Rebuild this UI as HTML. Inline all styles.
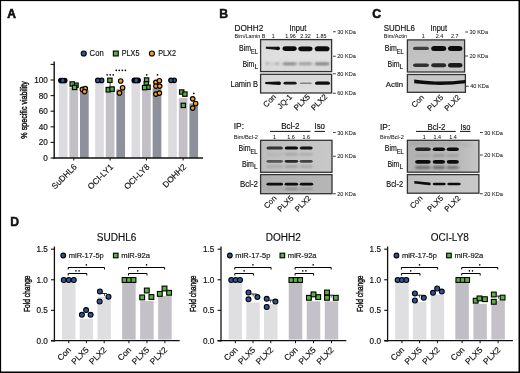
<!DOCTYPE html>
<html><head><meta charset="utf-8"><style>
html,body{margin:0;padding:0;background:#fff;}
body{position:relative;width:520px;height:373px;overflow:hidden;}
.fr{position:absolute;left:0;top:0;}
svg{display:block;font-family:"Liberation Sans", sans-serif;filter:blur(0.4px);}
text{stroke:#111;stroke-width:0.16px;}
</style></head><body>
<svg width="520" height="373" viewBox="0 0 520 373" font-family='"Liberation Sans", sans-serif' fill="#111">
<defs>
<filter id="b0" x="-20%" y="-100%" width="140%" height="300%"><feGaussianBlur stdDeviation="0.45"/></filter>
<filter id="b1" x="-20%" y="-100%" width="140%" height="300%"><feGaussianBlur stdDeviation="0.85"/></filter>
<filter id="b2" x="-20%" y="-100%" width="140%" height="300%"><feGaussianBlur stdDeviation="0.9"/></filter>
<filter id="b3" x="-20%" y="-100%" width="140%" height="300%"><feGaussianBlur stdDeviation="1.4"/></filter>
<linearGradient id="gB1" x1="0" y1="0" x2="0" y2="1"><stop offset="0" stop-color="#d6d6d6"/><stop offset="0.5" stop-color="#e0e0e0"/><stop offset="1" stop-color="#d8d8d8"/></linearGradient>
<linearGradient id="gB2" x1="0" y1="0" x2="0" y2="1"><stop offset="0" stop-color="#d8d8d8"/><stop offset="1" stop-color="#dedede"/></linearGradient>
<linearGradient id="gB3" x1="0" y1="0" x2="1" y2="0"><stop offset="0" stop-color="#bebebe"/><stop offset="1" stop-color="#c8c8c8"/></linearGradient>
<linearGradient id="gB4" x1="0" y1="0" x2="1" y2="0"><stop offset="0" stop-color="#b0b0b0"/><stop offset="1" stop-color="#b6b6b6"/></linearGradient>
<linearGradient id="gC1" x1="0" y1="0" x2="0" y2="1"><stop offset="0" stop-color="#bebebe"/><stop offset="1" stop-color="#c6c6c6"/></linearGradient>
<linearGradient id="gC2" x1="0" y1="0" x2="0" y2="1"><stop offset="0" stop-color="#c6c6c6"/><stop offset="1" stop-color="#cccccc"/></linearGradient>
<linearGradient id="gC3" x1="0" y1="0" x2="1" y2="0"><stop offset="0" stop-color="#b2b2b2"/><stop offset="0.7" stop-color="#b8b8b8"/><stop offset="1" stop-color="#c6c6c6"/></linearGradient>
<linearGradient id="gC4" x1="0" y1="0" x2="1" y2="0"><stop offset="0" stop-color="#bebebe"/><stop offset="1" stop-color="#c8c8c8"/></linearGradient>
</defs>
<rect x="0" y="0" width="520" height="373" fill="#fff"/>
<text x="7.3" y="17.5" font-size="12.0" font-weight="bold" style="stroke-width:0.65px">A</text>
<circle cx="83.75" cy="53.5" r="2.55" fill="#2d5597" stroke="#000" stroke-width="1.1"/>
<text x="89.6" y="56.3" font-size="8.2" textLength="14.1" lengthAdjust="spacingAndGlyphs">Con</text>
<rect x="113.35" y="51.05" width="4.9" height="4.9" fill="#5cb043" stroke="#000" stroke-width="1.1"/>
<text x="121.8" y="56.3" font-size="8.2" textLength="17.6" lengthAdjust="spacingAndGlyphs">PLX5</text>
<circle cx="151.9" cy="53.5" r="2.55" fill="#f39c26" stroke="#000" stroke-width="1.1"/>
<text x="158.2" y="56.3" font-size="8.2" textLength="17.8" lengthAdjust="spacingAndGlyphs">PLX2</text>
<rect x="58.8" y="80.0" width="8.7" height="78.0" fill="#dcdce0"/>
<rect x="69.4" y="87.41" width="8.7" height="70.59" fill="#c2c0c6"/>
<rect x="80.0" y="90.14" width="8.7" height="67.86" fill="#8e909c"/>
<rect x="95.15" y="80.0" width="8.7" height="78.0" fill="#dcdce0"/>
<rect x="105.75" y="86.24" width="8.7" height="71.76" fill="#c2c0c6"/>
<rect x="116.35" y="89.36" width="8.7" height="68.64" fill="#8e909c"/>
<rect x="131.45000000000002" y="80.0" width="8.7" height="78.0" fill="#dcdce0"/>
<rect x="142.05" y="87.8" width="8.7" height="70.2" fill="#c2c0c6"/>
<rect x="152.65" y="88.19" width="8.7" height="69.81" fill="#8e909c"/>
<rect x="168.15" y="80.0" width="8.7" height="78.0" fill="#dcdce0"/>
<rect x="178.75" y="97.94" width="8.7" height="60.06" fill="#c2c0c6"/>
<rect x="189.35" y="103.4" width="8.7" height="54.599999999999994" fill="#8e909c"/>
<line x1="54.2" y1="61.5" x2="54.2" y2="158.7" stroke="#111" stroke-width="1.4"/>
<line x1="53.5" y1="158" x2="203" y2="158" stroke="#111" stroke-width="1.4"/>
<line x1="50.6" y1="158.0" x2="54.2" y2="158.0" stroke="#111" stroke-width="1.1"/>
<text x="47.8" y="160.9" font-size="8.2" text-anchor="end">0</text>
<line x1="50.6" y1="142.4" x2="54.2" y2="142.4" stroke="#111" stroke-width="1.1"/>
<text x="47.8" y="145.3" font-size="8.2" text-anchor="end">20</text>
<line x1="50.6" y1="126.8" x2="54.2" y2="126.8" stroke="#111" stroke-width="1.1"/>
<text x="47.8" y="129.7" font-size="8.2" text-anchor="end">40</text>
<line x1="50.6" y1="111.19999999999999" x2="54.2" y2="111.19999999999999" stroke="#111" stroke-width="1.1"/>
<text x="47.8" y="114.1" font-size="8.2" text-anchor="end">60</text>
<line x1="50.6" y1="95.6" x2="54.2" y2="95.6" stroke="#111" stroke-width="1.1"/>
<text x="47.8" y="98.5" font-size="8.2" text-anchor="end">80</text>
<line x1="50.6" y1="80.0" x2="54.2" y2="80.0" stroke="#111" stroke-width="1.1"/>
<text x="47.8" y="82.9" font-size="8.2" text-anchor="end">100</text>
<line x1="50.6" y1="64.39999999999999" x2="54.2" y2="64.39999999999999" stroke="#111" stroke-width="1.1"/>
<line x1="73.75" y1="158" x2="73.75" y2="160.5" stroke="#111" stroke-width="1.0"/>
<line x1="110.1" y1="158" x2="110.1" y2="160.5" stroke="#111" stroke-width="1.0"/>
<line x1="146.4" y1="158" x2="146.4" y2="160.5" stroke="#111" stroke-width="1.0"/>
<line x1="183.1" y1="158" x2="183.1" y2="160.5" stroke="#111" stroke-width="1.0"/>
<text x="26.7" y="109.9" font-size="8.8" text-anchor="middle" textLength="57.5" lengthAdjust="spacingAndGlyphs" transform="rotate(-90 26.7 109.9)" style="stroke-width:0.42px">% specific viability</text>
<text x="77.35" y="167.4" font-size="8.4" text-anchor="end" transform="rotate(-45 77.35 167.4)">SuDHL6</text>
<text x="113.69999999999999" y="167.4" font-size="8.4" text-anchor="end" transform="rotate(-45 113.69999999999999 167.4)">OCI-LY1</text>
<text x="150.0" y="167.4" font-size="8.4" text-anchor="end" transform="rotate(-45 150.0 167.4)">OCI-LY8</text>
<text x="186.7" y="167.4" font-size="8.4" text-anchor="end" transform="rotate(-45 186.7 167.4)">DOHH2</text>
<circle cx="60.9" cy="80.5" r="2.25" fill="#000" stroke="#000" stroke-width="1.15"/>
<circle cx="64.7" cy="80.5" r="2.25" fill="#000" stroke="#000" stroke-width="1.15"/>
<circle cx="62.8" cy="80.5" r="2.3" fill="#2d5597" stroke="#000" stroke-width="1.1"/>
<rect x="73.825" y="83.025" width="4.35" height="4.35" fill="#5cb043" stroke="#000" stroke-width="1.15"/>
<rect x="70.025" y="81.825" width="4.35" height="4.35" fill="#5cb043" stroke="#000" stroke-width="1.15"/>
<rect x="72.425" y="85.22500000000001" width="4.35" height="4.35" fill="#5cb043" stroke="#000" stroke-width="1.15"/>
<circle cx="82.4" cy="89.4" r="2.25" fill="#f39c26" stroke="#000" stroke-width="1.15"/>
<circle cx="85.3" cy="88.6" r="2.25" fill="#f39c26" stroke="#000" stroke-width="1.15"/>
<circle cx="84.6" cy="91.6" r="2.25" fill="#f39c26" stroke="#000" stroke-width="1.15"/>
<circle cx="101.6" cy="80.4" r="2.25" fill="#2d5597" stroke="#000" stroke-width="1.15"/>
<circle cx="97.8" cy="80.4" r="2.25" fill="#2d5597" stroke="#000" stroke-width="1.15"/>
<line x1="110.1" y1="80.1" x2="110.1" y2="89.5" stroke="#111" stroke-width="0.8"/>
<rect x="107.72500000000001" y="78.125" width="4.35" height="4.35" fill="#5cb043" stroke="#000" stroke-width="1.15"/>
<rect x="106.125" y="87.625" width="4.35" height="4.35" fill="#5cb043" stroke="#000" stroke-width="1.15"/>
<rect x="109.925" y="86.925" width="4.35" height="4.35" fill="#5cb043" stroke="#000" stroke-width="1.15"/>
<circle cx="120.7" cy="81.0" r="2.25" fill="#f39c26" stroke="#000" stroke-width="1.15"/>
<circle cx="122.6" cy="87.7" r="2.25" fill="#f39c26" stroke="#000" stroke-width="1.15"/>
<circle cx="119.5" cy="92.9" r="2.25" fill="#f39c26" stroke="#000" stroke-width="1.15"/>
<circle cx="107.15" cy="74.8" r="0.85" fill="#000"/>
<circle cx="110.20" cy="74.8" r="0.85" fill="#000"/>
<circle cx="113.25" cy="74.8" r="0.85" fill="#000"/>
<circle cx="116.22" cy="70.3" r="0.85" fill="#000"/>
<circle cx="119.27" cy="70.3" r="0.85" fill="#000"/>
<circle cx="122.32" cy="70.3" r="0.85" fill="#000"/>
<circle cx="125.38" cy="70.3" r="0.85" fill="#000"/>
<circle cx="134.29999999999998" cy="80.4" r="2.25" fill="#000" stroke="#000" stroke-width="1.15"/>
<circle cx="138.1" cy="80.4" r="2.25" fill="#000" stroke="#000" stroke-width="1.15"/>
<circle cx="136.2" cy="80.4" r="2.3" fill="#2d5597" stroke="#000" stroke-width="1.1"/>
<rect x="144.42499999999998" y="77.825" width="4.35" height="4.35" fill="#5cb043" stroke="#000" stroke-width="1.15"/>
<rect x="144.125" y="81.625" width="4.35" height="4.35" fill="#5cb043" stroke="#000" stroke-width="1.15"/>
<rect x="145.825" y="85.025" width="4.35" height="4.35" fill="#5cb043" stroke="#000" stroke-width="1.15"/>
<rect x="142.42499999999998" y="85.425" width="4.35" height="4.35" fill="#5cb043" stroke="#000" stroke-width="1.15"/>
<circle cx="155.9" cy="82.3" r="2.25" fill="#f39c26" stroke="#000" stroke-width="1.15"/>
<circle cx="159.4" cy="80.7" r="2.25" fill="#f39c26" stroke="#000" stroke-width="1.15"/>
<circle cx="155.9" cy="86.1" r="2.25" fill="#f39c26" stroke="#000" stroke-width="1.15"/>
<circle cx="159.7" cy="86.1" r="2.25" fill="#f39c26" stroke="#000" stroke-width="1.15"/>
<circle cx="155.9" cy="94.1" r="2.25" fill="#f39c26" stroke="#000" stroke-width="1.15"/>
<circle cx="159.4" cy="93.1" r="2.25" fill="#f39c26" stroke="#000" stroke-width="1.15"/>
<circle cx="146.70" cy="74.8" r="0.85" fill="#000"/>
<circle cx="157.50" cy="74.8" r="0.85" fill="#000"/>
<circle cx="174.2" cy="80.3" r="2.25" fill="#2d5597" stroke="#000" stroke-width="1.15"/>
<circle cx="171.0" cy="80.3" r="2.25" fill="#2d5597" stroke="#000" stroke-width="1.15"/>
<rect x="179.52499999999998" y="89.825" width="4.35" height="4.35" fill="#5cb043" stroke="#000" stroke-width="1.15"/>
<rect x="182.725" y="91.925" width="4.35" height="4.35" fill="#5cb043" stroke="#000" stroke-width="1.15"/>
<rect x="181.125" y="103.22500000000001" width="4.35" height="4.35" fill="#5cb043" stroke="#000" stroke-width="1.15"/>
<circle cx="192.7" cy="98.8" r="2.25" fill="#f39c26" stroke="#000" stroke-width="1.15"/>
<circle cx="195.6" cy="103.5" r="2.25" fill="#f39c26" stroke="#000" stroke-width="1.15"/>
<circle cx="192.7" cy="108.1" r="2.25" fill="#f39c26" stroke="#000" stroke-width="1.15"/>
<circle cx="193.80" cy="93.4" r="0.85" fill="#000"/>
<text x="219.3" y="17.6" font-size="12.2" font-weight="bold" style="stroke-width:0.45px">B</text>
<text x="234.5" y="30.5" font-size="8.4" textLength="28.75" lengthAdjust="spacingAndGlyphs">DOHH2</text>
<text x="289.5" y="30.5" font-size="8.4" textLength="16.75" lengthAdjust="spacingAndGlyphs">Input</text>
<text x="234.5" y="38.0" font-size="5.6" textLength="31" lengthAdjust="spacingAndGlyphs" style="stroke-width:0.04px">Bim/Lamin B</text>
<text x="273.25" y="38.0" font-size="5.4" text-anchor="middle" style="stroke-width:0.04px">1</text>
<text x="290.6" y="38.0" font-size="5.4" text-anchor="middle" style="stroke-width:0.04px">1.96</text>
<text x="305.4" y="38.0" font-size="5.4" text-anchor="middle" style="stroke-width:0.04px">2.32</text>
<text x="321.2" y="38.0" font-size="5.4" text-anchor="middle" style="stroke-width:0.04px">1.85</text>
<rect x="260.6" y="39.6" width="71.0" height="31.999999999999993" fill="url(#gB1)" stroke="#333" stroke-width="1.3"/>
<path d="M265.8 46.849999999999994 L276.0 46.7 A1.5 1.5 0 0 1 276.0 49.7 L265.8 48.75 Z" fill="#0a0a0a" opacity="0.95" filter="url(#b0)"/>
<rect x="275.5" y="46.6" width="4.5" height="3.6" rx="2.25" ry="1.8" fill="#0a0a0a" opacity="1.0" filter="url(#b0)"/>
<rect x="282.5" y="46.15" width="14.199999999999989" height="4.9" rx="3.0500000000000003" ry="2.45" fill="#0a0a0a" opacity="1.0" filter="url(#b0)"/>
<rect x="298.3" y="46.449999999999996" width="14.199999999999989" height="4.7" rx="2.95" ry="2.35" fill="#0a0a0a" opacity="1.0" filter="url(#b0)"/>
<rect x="314.7" y="46.25" width="14.800000000000011" height="5.1" rx="3.15" ry="2.55" fill="#0a0a0a" opacity="1.0" filter="url(#b0)"/>
<rect x="265.5" y="62.6" width="3.5" height="1.8" rx="1.5" ry="0.9" fill="#0a0a0a" opacity="0.3" filter="url(#b1)"/>
<rect x="269.0" y="62.9" width="5.5" height="1.4" rx="1.2999999999999998" ry="0.7" fill="#0a0a0a" opacity="0.15" filter="url(#b1)"/>
<rect x="274.5" y="62.800000000000004" width="5.0" height="1.8" rx="1.5" ry="0.9" fill="#0a0a0a" opacity="0.3" filter="url(#b1)"/>
<rect x="282.6" y="62.699999999999996" width="14.0" height="2.2" rx="1.7000000000000002" ry="1.1" fill="#0a0a0a" opacity="0.5" filter="url(#b1)"/>
<rect x="298.6" y="62.8" width="13.599999999999966" height="2.0" rx="1.6" ry="1.0" fill="#0a0a0a" opacity="0.42" filter="url(#b1)"/>
<rect x="314.8" y="62.699999999999996" width="14.599999999999966" height="2.2" rx="1.7000000000000002" ry="1.1" fill="#0a0a0a" opacity="0.55" filter="url(#b1)"/>
<rect x="260.6" y="74.3" width="71.0" height="18.700000000000003" fill="url(#gB2)" stroke="#333" stroke-width="1.3"/>
<path d="M265.3 81.9 L279.3 81.6 A1.7 1.7 0 0 1 279.3 85.0 L265.3 83.9 Z" fill="#0a0a0a" opacity="1.0" filter="url(#b0)"/>
<rect x="283.5" y="81.8" width="13.100000000000023" height="2.8" rx="2.0" ry="1.4" fill="#0a0a0a" opacity="0.95" filter="url(#b0)"/>
<rect x="299.8" y="82.55" width="12.0" height="1.5" rx="1.35" ry="0.75" fill="#0a0a0a" opacity="0.42" filter="url(#b0)"/>
<rect x="315.0" y="81.60000000000001" width="15.0" height="3.2" rx="2.2" ry="1.6" fill="#0a0a0a" opacity="1.0" filter="url(#b0)"/>
<text x="251.0" y="51.300000000000004" font-size="8.4" text-anchor="end" textLength="12.0" lengthAdjust="spacingAndGlyphs">Bim</text>
<text x="258" y="53.800000000000004" font-size="6.5520000000000005" text-anchor="end" textLength="7.0" lengthAdjust="spacingAndGlyphs">EL</text>
<text x="254.4" y="66.5" font-size="8.4" text-anchor="end" textLength="12.0" lengthAdjust="spacingAndGlyphs">Bim</text>
<text x="258" y="69.0" font-size="6.5520000000000005" text-anchor="end" textLength="3.6" lengthAdjust="spacingAndGlyphs">L</text>
<text x="258" y="87.4" font-size="8.4" text-anchor="end" textLength="27.5" lengthAdjust="spacingAndGlyphs">Lamin B</text>
<line x1="333" y1="31.75" x2="335.8" y2="31.75" stroke="#111" stroke-width="0.8"/>
<text x="337.2" y="33.75" font-size="5.6" textLength="18.6" lengthAdjust="spacingAndGlyphs" style="stroke-width:0.04px">30 KDa</text>
<line x1="333" y1="56.25" x2="335.8" y2="56.25" stroke="#111" stroke-width="0.8"/>
<text x="337.2" y="58.25" font-size="5.6" textLength="18.6" lengthAdjust="spacingAndGlyphs" style="stroke-width:0.04px">20 KDa</text>
<line x1="333" y1="73.75" x2="335.8" y2="73.75" stroke="#111" stroke-width="0.8"/>
<text x="337.2" y="75.75" font-size="5.6" textLength="18.6" lengthAdjust="spacingAndGlyphs" style="stroke-width:0.04px">80 KDa</text>
<line x1="333" y1="93.25" x2="335.8" y2="93.25" stroke="#111" stroke-width="0.8"/>
<text x="337.2" y="95.25" font-size="5.6" textLength="18.6" lengthAdjust="spacingAndGlyphs" style="stroke-width:0.04px">60 KDa</text>
<text x="276.6" y="97.4" font-size="7.9" text-anchor="end" transform="rotate(-45 276.6 97.4)">Con</text>
<text x="292.6" y="97.4" font-size="7.9" text-anchor="end" transform="rotate(-45 292.6 97.4)">JQ-1</text>
<text x="310.6" y="97.4" font-size="7.9" text-anchor="end" transform="rotate(-45 310.6 97.4)">PLX5</text>
<text x="327.8" y="97.4" font-size="7.9" text-anchor="end" transform="rotate(-45 327.8 97.4)">PLX2</text>
<text x="233.75" y="128.75" font-size="8.4">IP:</text>
<text x="281.25" y="128.75" font-size="8.4" textLength="18.25" lengthAdjust="spacingAndGlyphs">Bcl-2</text>
<text x="314.5" y="128.75" font-size="8.4" textLength="10.5" lengthAdjust="spacingAndGlyphs">Iso</text>
<line x1="270" y1="131.4" x2="310.5" y2="131.4" stroke="#111" stroke-width="1.0"/>
<line x1="314.5" y1="131.4" x2="325" y2="131.4" stroke="#111" stroke-width="1.0"/>
<text x="233.75" y="138.75" font-size="5.6" textLength="24.25" lengthAdjust="spacingAndGlyphs" style="stroke-width:0.04px">Bim/Bcl-2</text>
<text x="274.5" y="138.75" font-size="5.4" text-anchor="middle" style="stroke-width:0.04px">1</text>
<text x="291.0" y="138.75" font-size="5.4" text-anchor="middle" style="stroke-width:0.04px">1.6</text>
<text x="306.25" y="138.75" font-size="5.4" text-anchor="middle" style="stroke-width:0.04px">1.6</text>
<rect x="260.6" y="140.3" width="71.39999999999998" height="32.0" fill="url(#gB3)" stroke="#333" stroke-width="1.3"/>
<rect x="266.5" y="146.6" width="16.399999999999977" height="3.0" rx="2.1" ry="1.5" fill="#0a0a0a" opacity="0.78" filter="url(#b0)"/>
<rect x="284.7" y="146.6" width="13.400000000000034" height="3.0" rx="2.1" ry="1.5" fill="#0a0a0a" opacity="1.0" filter="url(#b0)"/>
<rect x="299.7" y="146.6" width="13.0" height="3.0" rx="2.1" ry="1.5" fill="#0a0a0a" opacity="0.95" filter="url(#b0)"/>
<rect x="266.5" y="153.2" width="16.399999999999977" height="2.0" rx="1.6" ry="1.0" fill="#0a0a0a" opacity="0.08" filter="url(#b2)"/>
<rect x="284.7" y="153.2" width="13.400000000000034" height="2.0" rx="1.6" ry="1.0" fill="#0a0a0a" opacity="0.2" filter="url(#b2)"/>
<rect x="299.7" y="153.2" width="13.0" height="2.0" rx="1.6" ry="1.0" fill="#0a0a0a" opacity="0.16" filter="url(#b2)"/>
<rect x="266.5" y="159.9" width="16.399999999999977" height="2.8" rx="2.0" ry="1.4" fill="#0a0a0a" opacity="0.6" filter="url(#b0)"/>
<rect x="284.7" y="159.9" width="13.400000000000034" height="2.8" rx="2.0" ry="1.4" fill="#0a0a0a" opacity="0.85" filter="url(#b0)"/>
<rect x="299.7" y="159.9" width="13.0" height="2.8" rx="2.0" ry="1.4" fill="#0a0a0a" opacity="0.7" filter="url(#b0)"/>
<rect x="266.5" y="165.5" width="16.399999999999977" height="2.0" rx="1.6" ry="1.0" fill="#0a0a0a" opacity="0.15" filter="url(#b2)"/>
<rect x="284.7" y="165.5" width="13.400000000000034" height="2.0" rx="1.6" ry="1.0" fill="#0a0a0a" opacity="0.22" filter="url(#b2)"/>
<rect x="299.7" y="165.5" width="13.0" height="2.0" rx="1.6" ry="1.0" fill="#0a0a0a" opacity="0.18" filter="url(#b2)"/>
<rect x="260.6" y="174.6" width="71.39999999999998" height="19.099999999999994" fill="url(#gB4)" stroke="#333" stroke-width="1.3"/>
<rect x="266.5" y="182.85" width="16.5" height="2.7" rx="1.9500000000000002" ry="1.35" fill="#0a0a0a" opacity="1.0" filter="url(#b0)"/>
<rect x="284.7" y="182.85" width="13.400000000000034" height="2.7" rx="1.9500000000000002" ry="1.35" fill="#0a0a0a" opacity="1.0" filter="url(#b0)"/>
<rect x="299.7" y="182.85" width="13.5" height="2.7" rx="1.9500000000000002" ry="1.35" fill="#0a0a0a" opacity="1.0" filter="url(#b0)"/>
<rect x="266.5" y="188.1" width="16.399999999999977" height="1.8" rx="1.5" ry="0.9" fill="#0a0a0a" opacity="0.05" filter="url(#b2)"/>
<rect x="284.7" y="188.1" width="13.400000000000034" height="1.8" rx="1.5" ry="0.9" fill="#0a0a0a" opacity="0.3" filter="url(#b2)"/>
<rect x="299.7" y="188.1" width="13.0" height="1.8" rx="1.5" ry="0.9" fill="#0a0a0a" opacity="0.2" filter="url(#b2)"/>
<text x="250.5" y="151.29999999999998" font-size="8.4" text-anchor="end" textLength="12.0" lengthAdjust="spacingAndGlyphs">Bim</text>
<text x="257.5" y="153.79999999999998" font-size="6.5520000000000005" text-anchor="end" textLength="7.0" lengthAdjust="spacingAndGlyphs">EL</text>
<text x="253.9" y="166.6" font-size="8.4" text-anchor="end" textLength="12.0" lengthAdjust="spacingAndGlyphs">Bim</text>
<text x="257.5" y="169.1" font-size="6.5520000000000005" text-anchor="end" textLength="3.6" lengthAdjust="spacingAndGlyphs">L</text>
<text x="258" y="187.4" font-size="8.4" text-anchor="end" textLength="18" lengthAdjust="spacingAndGlyphs">Bcl-2</text>
<line x1="333" y1="132.5" x2="335.8" y2="132.5" stroke="#111" stroke-width="0.8"/>
<text x="337.2" y="134.5" font-size="5.6" textLength="18.6" lengthAdjust="spacingAndGlyphs" style="stroke-width:0.04px">30 KDa</text>
<line x1="333" y1="156.25" x2="335.8" y2="156.25" stroke="#111" stroke-width="0.8"/>
<text x="337.2" y="158.25" font-size="5.6" textLength="18.6" lengthAdjust="spacingAndGlyphs" style="stroke-width:0.04px">20 KDa</text>
<line x1="333" y1="193.75" x2="335.8" y2="193.75" stroke="#111" stroke-width="0.8"/>
<text x="337.2" y="195.75" font-size="5.6" textLength="18.6" lengthAdjust="spacingAndGlyphs" style="stroke-width:0.04px">20 KDa</text>
<text x="277.0" y="198.8" font-size="7.8" text-anchor="end" transform="rotate(-45 277.0 198.8)">Con</text>
<text x="294.0" y="198.8" font-size="7.8" text-anchor="end" transform="rotate(-45 294.0 198.8)">PLX5</text>
<text x="311.4" y="198.8" font-size="7.8" text-anchor="end" transform="rotate(-45 311.4 198.8)">PLX2</text>
<text x="372.2" y="17.6" font-size="12.2" font-weight="bold" style="stroke-width:0.6px">C</text>
<text x="383.75" y="31.25" font-size="8.4" textLength="31.25" lengthAdjust="spacingAndGlyphs">SUDHL6</text>
<text x="430.5" y="31.25" font-size="8.4" textLength="16.5" lengthAdjust="spacingAndGlyphs">Input</text>
<text x="383.75" y="38.0" font-size="5.6" textLength="23.25" lengthAdjust="spacingAndGlyphs" style="stroke-width:0.04px">Bim/Actin</text>
<text x="423.3" y="38.0" font-size="5.4" text-anchor="middle" style="stroke-width:0.04px">1</text>
<text x="439.4" y="38.0" font-size="5.4" text-anchor="middle" style="stroke-width:0.04px">2.4</text>
<text x="454.7" y="38.0" font-size="5.4" text-anchor="middle" style="stroke-width:0.04px">2.7</text>
<rect x="407.4" y="39.9" width="57.200000000000045" height="32.1" fill="url(#gC1)" stroke="#333" stroke-width="1.3"/>
<rect x="413.0" y="46.8" width="16.0" height="3.2" rx="2.2" ry="1.6" fill="#0a0a0a" opacity="0.72" filter="url(#b0)"/>
<rect x="431.2" y="45.9" width="15.0" height="5.0" rx="3.1" ry="2.5" fill="#0a0a0a" opacity="1.0" filter="url(#b0)"/>
<rect x="448.0" y="45.9" width="14.399999999999977" height="5.0" rx="3.1" ry="2.5" fill="#0a0a0a" opacity="1.0" filter="url(#b0)"/>
<rect x="413.0" y="63.400000000000006" width="16.0" height="3.6" rx="2.4" ry="1.8" fill="#0a0a0a" opacity="0.8" filter="url(#b0)"/>
<rect x="431.2" y="63.2" width="15.0" height="4.0" rx="2.6" ry="2.0" fill="#0a0a0a" opacity="0.85" filter="url(#b0)"/>
<rect x="448.0" y="63.0" width="14.399999999999977" height="4.4" rx="2.8000000000000003" ry="2.2" fill="#0a0a0a" opacity="0.92" filter="url(#b0)"/>
<rect x="407.4" y="74.5" width="58.0" height="17.799999999999997" fill="url(#gC2)" stroke="#333" stroke-width="1.3"/>
<path d="M414.2 79.4 Q432 81.6 440 81.5 Q452 81.4 465.4 79.9 L465.4 83.3 Q452 84.8 440 85.0 Q432 85.0 414.2 83.3 Z" fill="#0a0a0a" filter="url(#b0)"/>
<text x="396.75" y="51.300000000000004" font-size="8.4" text-anchor="end" textLength="12.0" lengthAdjust="spacingAndGlyphs">Bim</text>
<text x="403.75" y="53.800000000000004" font-size="6.5520000000000005" text-anchor="end" textLength="7.0" lengthAdjust="spacingAndGlyphs">EL</text>
<text x="399.59999999999997" y="66.7" font-size="8.4" text-anchor="end" textLength="12.0" lengthAdjust="spacingAndGlyphs">Bim</text>
<text x="403.2" y="69.2" font-size="6.5520000000000005" text-anchor="end" textLength="3.6" lengthAdjust="spacingAndGlyphs">L</text>
<text x="403.2" y="87.0" font-size="7.8" text-anchor="end">Actin</text>
<line x1="465.2" y1="32.0" x2="468.0" y2="32.0" stroke="#111" stroke-width="0.8"/>
<text x="469.4" y="34.0" font-size="5.6" textLength="18.6" lengthAdjust="spacingAndGlyphs" style="stroke-width:0.04px">30 KDa</text>
<line x1="465.2" y1="56.0" x2="468.0" y2="56.0" stroke="#111" stroke-width="0.8"/>
<text x="469.4" y="58.0" font-size="5.6" textLength="18.6" lengthAdjust="spacingAndGlyphs" style="stroke-width:0.04px">20 KDa</text>
<line x1="466" y1="86.25" x2="468.8" y2="86.25" stroke="#111" stroke-width="0.8"/>
<text x="470.2" y="88.25" font-size="5.6" textLength="18.6" lengthAdjust="spacingAndGlyphs" style="stroke-width:0.04px">40 KDa</text>
<text x="424.6" y="97.9" font-size="7.8" text-anchor="end" transform="rotate(-45 424.6 97.9)">Con</text>
<text x="443.8" y="97.9" font-size="7.8" text-anchor="end" transform="rotate(-45 443.8 97.9)">PLX5</text>
<text x="460.9" y="97.9" font-size="7.8" text-anchor="end" transform="rotate(-45 460.9 97.9)">PLX2</text>
<text x="380" y="129.5" font-size="8.4">IP:</text>
<text x="427.5" y="129.5" font-size="8.4" textLength="18" lengthAdjust="spacingAndGlyphs">Bcl-2</text>
<text x="460.5" y="129.5" font-size="8.4" textLength="10" lengthAdjust="spacingAndGlyphs">Iso</text>
<line x1="416" y1="131.4" x2="455.75" y2="131.4" stroke="#111" stroke-width="1.0"/>
<line x1="460" y1="131.4" x2="470.5" y2="131.4" stroke="#111" stroke-width="1.0"/>
<text x="380" y="138.75" font-size="5.6" textLength="23.75" lengthAdjust="spacingAndGlyphs" style="stroke-width:0.04px">Bim/Bcl-2</text>
<text x="424.25" y="138.75" font-size="5.4" text-anchor="middle" style="stroke-width:0.04px">1</text>
<text x="437.25" y="138.75" font-size="5.4" text-anchor="middle" style="stroke-width:0.04px">1.4</text>
<text x="452.9" y="138.75" font-size="5.4" text-anchor="middle" style="stroke-width:0.04px">1.4</text>
<rect x="407.4" y="140.3" width="71.5" height="31.899999999999977" fill="url(#gC3)" stroke="#333" stroke-width="1.3"/>
<rect x="410" y="142.0" width="50" height="3.0" rx="2.1" ry="1.5" fill="#0a0a0a" opacity="0.08" filter="url(#b3)"/>
<rect x="415.1" y="147.5" width="15.599999999999966" height="3.4" rx="2.3" ry="1.7" fill="#0a0a0a" opacity="0.85" filter="url(#b0)"/>
<rect x="432.7" y="147.5" width="12.400000000000034" height="3.4" rx="2.3" ry="1.7" fill="#0a0a0a" opacity="1.0" filter="url(#b0)"/>
<rect x="446.7" y="147.5" width="12.199999999999989" height="3.4" rx="2.3" ry="1.7" fill="#0a0a0a" opacity="1.0" filter="url(#b0)"/>
<rect x="415.1" y="154.4" width="15.599999999999966" height="2.0" rx="1.6" ry="1.0" fill="#0a0a0a" opacity="0.1" filter="url(#b2)"/>
<rect x="432.7" y="154.4" width="12.400000000000034" height="2.0" rx="1.6" ry="1.0" fill="#0a0a0a" opacity="0.22" filter="url(#b2)"/>
<rect x="446.7" y="154.4" width="12.199999999999989" height="2.0" rx="1.6" ry="1.0" fill="#0a0a0a" opacity="0.18" filter="url(#b2)"/>
<rect x="415.1" y="159.9" width="15.599999999999966" height="3.8" rx="2.5" ry="1.9" fill="#0a0a0a" opacity="1.0" filter="url(#b0)"/>
<rect x="432.7" y="159.9" width="12.400000000000034" height="3.8" rx="2.5" ry="1.9" fill="#0a0a0a" opacity="1.0" filter="url(#b0)"/>
<rect x="446.7" y="159.9" width="12.199999999999989" height="3.8" rx="2.5" ry="1.9" fill="#0a0a0a" opacity="1.0" filter="url(#b0)"/>
<rect x="415.1" y="166.1" width="15.599999999999966" height="2.8" rx="2.0" ry="1.4" fill="#0a0a0a" opacity="0.42" filter="url(#b2)"/>
<rect x="432.7" y="166.1" width="12.400000000000034" height="2.8" rx="2.0" ry="1.4" fill="#0a0a0a" opacity="0.45" filter="url(#b2)"/>
<rect x="446.7" y="166.1" width="12.199999999999989" height="2.8" rx="2.0" ry="1.4" fill="#0a0a0a" opacity="0.4" filter="url(#b2)"/>
<rect x="461" y="143.75" width="11" height="2.5" rx="1.85" ry="1.25" fill="#0a0a0a" opacity="0.08" filter="url(#b3)"/>
<rect x="407.4" y="174.6" width="71.5" height="18.599999999999994" fill="url(#gC4)" stroke="#333" stroke-width="1.3"/>
<path d="M414.3 181.0 L429.4 182.6 A1.3 1.3 0 0 1 429.4 185.20000000000002 L414.3 183.60000000000002 Z" fill="#0a0a0a" opacity="1.0" filter="url(#b0)"/>
<rect x="432.7" y="182.7" width="13.0" height="2.6" rx="1.9" ry="1.3" fill="#0a0a0a" opacity="1.0" filter="url(#b0)"/>
<rect x="447.3" y="182.7" width="13.399999999999977" height="2.6" rx="1.9" ry="1.3" fill="#0a0a0a" opacity="1.0" filter="url(#b0)"/>
<text x="396.75" y="151.29999999999998" font-size="8.4" text-anchor="end" textLength="12.0" lengthAdjust="spacingAndGlyphs">Bim</text>
<text x="403.75" y="153.79999999999998" font-size="6.5520000000000005" text-anchor="end" textLength="7.0" lengthAdjust="spacingAndGlyphs">EL</text>
<text x="399.4" y="166.7" font-size="8.4" text-anchor="end" textLength="12.0" lengthAdjust="spacingAndGlyphs">Bim</text>
<text x="403.0" y="169.2" font-size="6.5520000000000005" text-anchor="end" textLength="3.6" lengthAdjust="spacingAndGlyphs">L</text>
<text x="403" y="187.0" font-size="8.4" text-anchor="end" textLength="16.75" lengthAdjust="spacingAndGlyphs">Bcl-2</text>
<line x1="480" y1="132.5" x2="482.8" y2="132.5" stroke="#111" stroke-width="0.8"/>
<text x="484.2" y="134.5" font-size="5.6" textLength="18.6" lengthAdjust="spacingAndGlyphs" style="stroke-width:0.04px">30 KDa</text>
<line x1="480" y1="155.0" x2="482.8" y2="155.0" stroke="#111" stroke-width="0.8"/>
<text x="484.2" y="157.0" font-size="5.6" textLength="18.6" lengthAdjust="spacingAndGlyphs" style="stroke-width:0.04px">20 KDa</text>
<line x1="480" y1="193.75" x2="482.8" y2="193.75" stroke="#111" stroke-width="0.8"/>
<text x="484.2" y="195.75" font-size="5.6" textLength="18.6" lengthAdjust="spacingAndGlyphs" style="stroke-width:0.04px">20 KDa</text>
<text x="423.0" y="198.8" font-size="7.8" text-anchor="end" transform="rotate(-45 423.0 198.8)">Con</text>
<text x="443.8" y="198.8" font-size="7.8" text-anchor="end" transform="rotate(-45 443.8 198.8)">PLX5</text>
<text x="461.1" y="198.8" font-size="7.8" text-anchor="end" transform="rotate(-45 461.1 198.8)">PLX2</text>
<text x="10.3" y="226.1" font-size="12.2" font-weight="bold" style="stroke-width:0.45px">D</text>
<rect x="62.0" y="280" width="13.5" height="59.5" fill="#dfdfe1"/>
<rect x="79.65" y="318.8" width="13.5" height="20.69999999999999" fill="#dfdfe1"/>
<rect x="97.45" y="296.7" width="13.5" height="42.80000000000001" fill="#dfdfe1"/>
<rect x="122.15" y="280" width="13.5" height="59.5" fill="#c0bec4"/>
<rect x="140.15" y="301" width="13.5" height="38.5" fill="#c4c2c8"/>
<rect x="158.15" y="296" width="13.5" height="43.5" fill="#c4c2c8"/>
<line x1="54.4" y1="246.5" x2="54.4" y2="341.6" stroke="#111" stroke-width="1.3"/>
<line x1="51.0" y1="340.7" x2="179.7" y2="340.7" stroke="#111" stroke-width="1.3"/>
<line x1="51.0" y1="340.9" x2="54.4" y2="340.9" stroke="#111" stroke-width="1.1"/>
<text x="47.8" y="343.79999999999995" font-size="8.2" text-anchor="end">0.0</text>
<line x1="51.0" y1="310.335" x2="54.4" y2="310.335" stroke="#111" stroke-width="1.1"/>
<text x="47.8" y="313.23499999999996" font-size="8.2" text-anchor="end">0.5</text>
<line x1="51.0" y1="279.77" x2="54.4" y2="279.77" stroke="#111" stroke-width="1.1"/>
<text x="47.8" y="282.66999999999996" font-size="8.2" text-anchor="end">1.0</text>
<line x1="51.0" y1="249.20499999999998" x2="54.4" y2="249.20499999999998" stroke="#111" stroke-width="1.1"/>
<text x="47.8" y="252.105" font-size="8.2" text-anchor="end">1.5</text>
<line x1="68.75" y1="340.7" x2="68.75" y2="343.2" stroke="#111" stroke-width="1.0"/>
<line x1="86.4" y1="340.7" x2="86.4" y2="343.2" stroke="#111" stroke-width="1.0"/>
<line x1="104.2" y1="340.7" x2="104.2" y2="343.2" stroke="#111" stroke-width="1.0"/>
<line x1="128.9" y1="340.7" x2="128.9" y2="343.2" stroke="#111" stroke-width="1.0"/>
<line x1="146.9" y1="340.7" x2="146.9" y2="343.2" stroke="#111" stroke-width="1.0"/>
<line x1="164.9" y1="340.7" x2="164.9" y2="343.2" stroke="#111" stroke-width="1.0"/>
<text x="116.6" y="241.3" font-size="10.0" text-anchor="middle">SUDHL6</text>
<text x="29.799999999999997" y="293.7" font-size="8.8" text-anchor="middle" textLength="36.5" lengthAdjust="spacingAndGlyphs" transform="rotate(-90 29.799999999999997 293.7)" style="stroke-width:0.42px">Fold change</text>
<circle cx="63.25" cy="255.5" r="2.35" fill="#2d5597" stroke="#000" stroke-width="1.1"/>
<text x="68.75" y="258.3" font-size="7.6" textLength="35" lengthAdjust="spacingAndGlyphs">miR-17-5p</text>
<rect x="113.45" y="253.2" width="4.6" height="4.6" fill="#5cb043" stroke="#000" stroke-width="1.1"/>
<text x="121.25" y="258.3" font-size="7.6" textLength="28.75" lengthAdjust="spacingAndGlyphs">miR-92a</text>
<path d="M68.2 275.5 V273.5 H86.8 V275.5" fill="none" stroke="#000" stroke-width="1.0"/>
<circle cx="75.95" cy="270.9" r="0.78" fill="#000"/>
<circle cx="79.05" cy="270.9" r="0.78" fill="#000"/>
<path d="M68.2 269.5 V267.5 H104.5 V269.5" fill="none" stroke="#000" stroke-width="1.0"/>
<circle cx="86.35" cy="264.9" r="0.78" fill="#000"/>
<path d="M128.5 275.5 V273.5 H147.0 V275.5" fill="none" stroke="#000" stroke-width="1.0"/>
<circle cx="137.75" cy="270.9" r="0.78" fill="#000"/>
<path d="M128.5 269.5 V267.5 H164.6 V269.5" fill="none" stroke="#000" stroke-width="1.0"/>
<circle cx="146.55" cy="264.9" r="0.78" fill="#000"/>
<line x1="102" y1="293.5" x2="106.9" y2="293.5" stroke="#111" stroke-width="0.9"/>
<line x1="104.5" y1="293.5" x2="104.5" y2="295.9" stroke="#111" stroke-width="0.7"/>
<circle cx="63.75" cy="280" r="2.45" fill="#2d5597" stroke="#000" stroke-width="1.1"/>
<circle cx="68.75" cy="280" r="2.45" fill="#2d5597" stroke="#000" stroke-width="1.1"/>
<circle cx="73.75" cy="280" r="2.45" fill="#2d5597" stroke="#000" stroke-width="1.1"/>
<circle cx="81.9" cy="314.8" r="2.45" fill="#2d5597" stroke="#000" stroke-width="1.1"/>
<circle cx="90.6" cy="314.8" r="2.45" fill="#2d5597" stroke="#000" stroke-width="1.1"/>
<circle cx="86.1" cy="310.1" r="2.45" fill="#2d5597" stroke="#000" stroke-width="1.1"/>
<circle cx="99.9" cy="291.4" r="2.45" fill="#2d5597" stroke="#000" stroke-width="1.1"/>
<circle cx="99.6" cy="301.5" r="2.45" fill="#2d5597" stroke="#000" stroke-width="1.1"/>
<circle cx="108.5" cy="296.7" r="2.45" fill="#2d5597" stroke="#000" stroke-width="1.1"/>
<rect x="122.19999999999999" y="277.6" width="4.8" height="4.8" fill="#5cb043" stroke="#000" stroke-width="1.1"/>
<rect x="126.69999999999999" y="277.6" width="4.8" height="4.8" fill="#5cb043" stroke="#000" stroke-width="1.1"/>
<rect x="131.1" y="277.6" width="4.8" height="4.8" fill="#5cb043" stroke="#000" stroke-width="1.1"/>
<rect x="139.79999999999998" y="295.0" width="4.8" height="4.8" fill="#5cb043" stroke="#000" stroke-width="1.1"/>
<rect x="149.0" y="294.6" width="4.8" height="4.8" fill="#5cb043" stroke="#000" stroke-width="1.1"/>
<rect x="144.4" y="288.1" width="4.8" height="4.8" fill="#5cb043" stroke="#000" stroke-width="1.1"/>
<rect x="157.4" y="291.5" width="4.8" height="4.8" fill="#5cb043" stroke="#000" stroke-width="1.1"/>
<rect x="166.7" y="290.40000000000003" width="4.8" height="4.8" fill="#5cb043" stroke="#000" stroke-width="1.1"/>
<rect x="162.1" y="286.1" width="4.8" height="4.8" fill="#5cb043" stroke="#000" stroke-width="1.1"/>
<text x="71.65" y="350.4" font-size="8.4" text-anchor="end" transform="rotate(-45 71.65 350.4)">Con</text>
<text x="89.30000000000001" y="350.4" font-size="8.4" text-anchor="end" transform="rotate(-45 89.30000000000001 350.4)">PLX5</text>
<text x="107.10000000000001" y="350.4" font-size="8.4" text-anchor="end" transform="rotate(-45 107.10000000000001 350.4)">PLX2</text>
<text x="131.8" y="350.4" font-size="8.4" text-anchor="end" transform="rotate(-45 131.8 350.4)">Con</text>
<text x="149.8" y="350.4" font-size="8.4" text-anchor="end" transform="rotate(-45 149.8 350.4)">PLX5</text>
<text x="167.8" y="350.4" font-size="8.4" text-anchor="end" transform="rotate(-45 167.8 350.4)">PLX2</text>
<rect x="228.6" y="280" width="13.5" height="59.5" fill="#dfdfe1"/>
<rect x="246.25" y="302.5" width="13.5" height="37.0" fill="#dfdfe1"/>
<rect x="264.05" y="304" width="13.5" height="35.5" fill="#dfdfe1"/>
<rect x="288.75" y="280" width="13.5" height="59.5" fill="#c0bec4"/>
<rect x="306.75" y="301.3" width="13.5" height="38.19999999999999" fill="#c4c2c8"/>
<rect x="324.75" y="301.3" width="13.5" height="38.19999999999999" fill="#c4c2c8"/>
<line x1="221.0" y1="246.5" x2="221.0" y2="341.6" stroke="#111" stroke-width="1.3"/>
<line x1="217.6" y1="340.7" x2="346.3" y2="340.7" stroke="#111" stroke-width="1.3"/>
<line x1="217.6" y1="340.9" x2="221.0" y2="340.9" stroke="#111" stroke-width="1.1"/>
<text x="214.4" y="343.79999999999995" font-size="8.2" text-anchor="end">0.0</text>
<line x1="217.6" y1="310.335" x2="221.0" y2="310.335" stroke="#111" stroke-width="1.1"/>
<text x="214.4" y="313.23499999999996" font-size="8.2" text-anchor="end">0.5</text>
<line x1="217.6" y1="279.77" x2="221.0" y2="279.77" stroke="#111" stroke-width="1.1"/>
<text x="214.4" y="282.66999999999996" font-size="8.2" text-anchor="end">1.0</text>
<line x1="217.6" y1="249.20499999999998" x2="221.0" y2="249.20499999999998" stroke="#111" stroke-width="1.1"/>
<text x="214.4" y="252.105" font-size="8.2" text-anchor="end">1.5</text>
<line x1="235.35" y1="340.7" x2="235.35" y2="343.2" stroke="#111" stroke-width="1.0"/>
<line x1="253.0" y1="340.7" x2="253.0" y2="343.2" stroke="#111" stroke-width="1.0"/>
<line x1="270.8" y1="340.7" x2="270.8" y2="343.2" stroke="#111" stroke-width="1.0"/>
<line x1="295.5" y1="340.7" x2="295.5" y2="343.2" stroke="#111" stroke-width="1.0"/>
<line x1="313.5" y1="340.7" x2="313.5" y2="343.2" stroke="#111" stroke-width="1.0"/>
<line x1="331.5" y1="340.7" x2="331.5" y2="343.2" stroke="#111" stroke-width="1.0"/>
<text x="283.2" y="241.3" font-size="10.0" text-anchor="middle">DOHH2</text>
<text x="196.4" y="293.7" font-size="8.8" text-anchor="middle" textLength="36.5" lengthAdjust="spacingAndGlyphs" transform="rotate(-90 196.4 293.7)" style="stroke-width:0.42px">Fold change</text>
<circle cx="229.85" cy="255.5" r="2.35" fill="#2d5597" stroke="#000" stroke-width="1.1"/>
<text x="235.35" y="258.3" font-size="7.6" textLength="35" lengthAdjust="spacingAndGlyphs">miR-17-5p</text>
<rect x="280.05" y="253.2" width="4.6" height="4.6" fill="#5cb043" stroke="#000" stroke-width="1.1"/>
<text x="287.85" y="258.3" font-size="7.6" textLength="28.75" lengthAdjust="spacingAndGlyphs">miR-92a</text>
<path d="M234.8 275.5 V273.5 H253.39999999999998 V275.5" fill="none" stroke="#000" stroke-width="1.0"/>
<circle cx="244.10" cy="270.9" r="0.78" fill="#000"/>
<path d="M234.8 269.5 V267.5 H271.1 V269.5" fill="none" stroke="#000" stroke-width="1.0"/>
<circle cx="252.95" cy="264.9" r="0.78" fill="#000"/>
<path d="M295.1 275.5 V273.5 H313.6 V275.5" fill="none" stroke="#000" stroke-width="1.0"/>
<circle cx="302.80" cy="270.9" r="0.78" fill="#000"/>
<circle cx="305.90" cy="270.9" r="0.78" fill="#000"/>
<path d="M295.1 269.5 V267.5 H331.2 V269.5" fill="none" stroke="#000" stroke-width="1.0"/>
<circle cx="313.15" cy="264.9" r="0.78" fill="#000"/>
<line x1="251.2" y1="294.0" x2="256.8" y2="294.0" stroke="#111" stroke-width="0.9"/>
<line x1="253.2" y1="294.0" x2="253.2" y2="296.4" stroke="#111" stroke-width="0.7"/>
<line x1="268.8" y1="300.1" x2="273.0" y2="300.1" stroke="#111" stroke-width="0.9"/>
<line x1="270.5" y1="300.1" x2="270.5" y2="302.5" stroke="#111" stroke-width="0.7"/>
<line x1="329.5" y1="295.2" x2="333.2" y2="295.2" stroke="#111" stroke-width="0.9"/>
<line x1="331.2" y1="295.2" x2="331.2" y2="297.59999999999997" stroke="#111" stroke-width="0.7"/>
<circle cx="231.25" cy="280" r="2.45" fill="#2d5597" stroke="#000" stroke-width="1.1"/>
<circle cx="235.6" cy="280" r="2.45" fill="#2d5597" stroke="#000" stroke-width="1.1"/>
<circle cx="240" cy="280" r="2.45" fill="#2d5597" stroke="#000" stroke-width="1.1"/>
<circle cx="248.5" cy="292.5" r="2.45" fill="#2d5597" stroke="#000" stroke-width="1.1"/>
<circle cx="248.5" cy="299.3" r="2.45" fill="#2d5597" stroke="#000" stroke-width="1.1"/>
<circle cx="257.4" cy="297.1" r="2.45" fill="#2d5597" stroke="#000" stroke-width="1.1"/>
<circle cx="266.7" cy="298.8" r="2.45" fill="#2d5597" stroke="#000" stroke-width="1.1"/>
<circle cx="266.7" cy="306.9" r="2.45" fill="#2d5597" stroke="#000" stroke-width="1.1"/>
<circle cx="275.4" cy="301.6" r="2.45" fill="#2d5597" stroke="#000" stroke-width="1.1"/>
<rect x="289.0" y="277.6" width="4.8" height="4.8" fill="#5cb043" stroke="#000" stroke-width="1.1"/>
<rect x="293.3" y="277.6" width="4.8" height="4.8" fill="#5cb043" stroke="#000" stroke-width="1.1"/>
<rect x="297.70000000000005" y="277.6" width="4.8" height="4.8" fill="#5cb043" stroke="#000" stroke-width="1.1"/>
<rect x="306.5" y="295.40000000000003" width="4.8" height="4.8" fill="#5cb043" stroke="#000" stroke-width="1.1"/>
<rect x="315.8" y="294.70000000000005" width="4.8" height="4.8" fill="#5cb043" stroke="#000" stroke-width="1.1"/>
<rect x="311.1" y="292.0" width="4.8" height="4.8" fill="#5cb043" stroke="#000" stroke-width="1.1"/>
<rect x="324.6" y="290.1" width="4.8" height="4.8" fill="#5cb043" stroke="#000" stroke-width="1.1"/>
<rect x="324.6" y="295.40000000000003" width="4.8" height="4.8" fill="#5cb043" stroke="#000" stroke-width="1.1"/>
<rect x="333.40000000000003" y="295.40000000000003" width="4.8" height="4.8" fill="#5cb043" stroke="#000" stroke-width="1.1"/>
<text x="238.25" y="350.4" font-size="8.4" text-anchor="end" transform="rotate(-45 238.25 350.4)">Con</text>
<text x="255.9" y="350.4" font-size="8.4" text-anchor="end" transform="rotate(-45 255.9 350.4)">PLX5</text>
<text x="273.7" y="350.4" font-size="8.4" text-anchor="end" transform="rotate(-45 273.7 350.4)">PLX2</text>
<text x="298.4" y="350.4" font-size="8.4" text-anchor="end" transform="rotate(-45 298.4 350.4)">Con</text>
<text x="316.4" y="350.4" font-size="8.4" text-anchor="end" transform="rotate(-45 316.4 350.4)">PLX5</text>
<text x="334.4" y="350.4" font-size="8.4" text-anchor="end" transform="rotate(-45 334.4 350.4)">PLX2</text>
<rect x="395.2" y="280" width="13.5" height="59.5" fill="#dfdfe1"/>
<rect x="412.85" y="302" width="13.5" height="37.5" fill="#dfdfe1"/>
<rect x="430.65" y="294.7" width="13.5" height="44.80000000000001" fill="#dfdfe1"/>
<rect x="455.35" y="280" width="13.5" height="59.5" fill="#c0bec4"/>
<rect x="473.35" y="303.8" width="13.5" height="35.69999999999999" fill="#c4c2c8"/>
<rect x="491.35" y="300.7" width="13.5" height="38.80000000000001" fill="#c4c2c8"/>
<line x1="387.59999999999997" y1="246.5" x2="387.59999999999997" y2="341.6" stroke="#111" stroke-width="1.3"/>
<line x1="384.2" y1="340.7" x2="512.9" y2="340.7" stroke="#111" stroke-width="1.3"/>
<line x1="384.2" y1="340.9" x2="387.59999999999997" y2="340.9" stroke="#111" stroke-width="1.1"/>
<text x="380.99999999999994" y="343.79999999999995" font-size="8.2" text-anchor="end">0.0</text>
<line x1="384.2" y1="310.335" x2="387.59999999999997" y2="310.335" stroke="#111" stroke-width="1.1"/>
<text x="380.99999999999994" y="313.23499999999996" font-size="8.2" text-anchor="end">0.5</text>
<line x1="384.2" y1="279.77" x2="387.59999999999997" y2="279.77" stroke="#111" stroke-width="1.1"/>
<text x="380.99999999999994" y="282.66999999999996" font-size="8.2" text-anchor="end">1.0</text>
<line x1="384.2" y1="249.20499999999998" x2="387.59999999999997" y2="249.20499999999998" stroke="#111" stroke-width="1.1"/>
<text x="380.99999999999994" y="252.105" font-size="8.2" text-anchor="end">1.5</text>
<line x1="401.95" y1="340.7" x2="401.95" y2="343.2" stroke="#111" stroke-width="1.0"/>
<line x1="419.6" y1="340.7" x2="419.6" y2="343.2" stroke="#111" stroke-width="1.0"/>
<line x1="437.4" y1="340.7" x2="437.4" y2="343.2" stroke="#111" stroke-width="1.0"/>
<line x1="462.1" y1="340.7" x2="462.1" y2="343.2" stroke="#111" stroke-width="1.0"/>
<line x1="480.1" y1="340.7" x2="480.1" y2="343.2" stroke="#111" stroke-width="1.0"/>
<line x1="498.1" y1="340.7" x2="498.1" y2="343.2" stroke="#111" stroke-width="1.0"/>
<text x="449.79999999999995" y="241.3" font-size="10.0" text-anchor="middle">OCI-LY8</text>
<text x="362.99999999999994" y="293.7" font-size="8.8" text-anchor="middle" textLength="36.5" lengthAdjust="spacingAndGlyphs" transform="rotate(-90 362.99999999999994 293.7)" style="stroke-width:0.42px">Fold change</text>
<circle cx="396.45" cy="255.5" r="2.35" fill="#2d5597" stroke="#000" stroke-width="1.1"/>
<text x="401.95" y="258.3" font-size="7.6" textLength="35" lengthAdjust="spacingAndGlyphs">miR-17-5p</text>
<rect x="446.65" y="253.2" width="4.6" height="4.6" fill="#5cb043" stroke="#000" stroke-width="1.1"/>
<text x="454.45" y="258.3" font-size="7.6" textLength="28.75" lengthAdjust="spacingAndGlyphs">miR-92a</text>
<path d="M401.4 275.5 V273.5 H420.0 V275.5" fill="none" stroke="#000" stroke-width="1.0"/>
<circle cx="410.70" cy="270.9" r="0.78" fill="#000"/>
<path d="M401.4 269.5 V267.5 H437.7 V269.5" fill="none" stroke="#000" stroke-width="1.0"/>
<circle cx="419.55" cy="264.9" r="0.78" fill="#000"/>
<path d="M461.7 275.5 V273.5 H480.2 V275.5" fill="none" stroke="#000" stroke-width="1.0"/>
<circle cx="469.40" cy="270.9" r="0.78" fill="#000"/>
<circle cx="472.50" cy="270.9" r="0.78" fill="#000"/>
<path d="M461.7 269.5 V267.5 H497.79999999999995 V269.5" fill="none" stroke="#000" stroke-width="1.0"/>
<circle cx="479.75" cy="264.9" r="0.78" fill="#000"/>
<line x1="417.2" y1="295.2" x2="422.6" y2="295.2" stroke="#111" stroke-width="0.9"/>
<line x1="419.5" y1="295.2" x2="419.5" y2="297.59999999999997" stroke="#111" stroke-width="0.7"/>
<line x1="496.8" y1="296.1" x2="500.3" y2="296.1" stroke="#111" stroke-width="0.9"/>
<line x1="498.5" y1="296.1" x2="498.5" y2="298.5" stroke="#111" stroke-width="0.7"/>
<circle cx="397.6" cy="280" r="2.45" fill="#2d5597" stroke="#000" stroke-width="1.1"/>
<circle cx="401.9" cy="280" r="2.45" fill="#2d5597" stroke="#000" stroke-width="1.1"/>
<circle cx="406.3" cy="280" r="2.45" fill="#2d5597" stroke="#000" stroke-width="1.1"/>
<circle cx="414.9" cy="293.4" r="2.45" fill="#2d5597" stroke="#000" stroke-width="1.1"/>
<circle cx="414.9" cy="300.5" r="2.45" fill="#2d5597" stroke="#000" stroke-width="1.1"/>
<circle cx="423.8" cy="297.8" r="2.45" fill="#2d5597" stroke="#000" stroke-width="1.1"/>
<circle cx="433" cy="292.8" r="2.45" fill="#2d5597" stroke="#000" stroke-width="1.1"/>
<circle cx="441.8" cy="291.6" r="2.45" fill="#2d5597" stroke="#000" stroke-width="1.1"/>
<circle cx="437.2" cy="288.5" r="2.45" fill="#2d5597" stroke="#000" stroke-width="1.1"/>
<rect x="456.0" y="277.6" width="4.8" height="4.8" fill="#5cb043" stroke="#000" stroke-width="1.1"/>
<rect x="460.3" y="277.6" width="4.8" height="4.8" fill="#5cb043" stroke="#000" stroke-width="1.1"/>
<rect x="464.70000000000005" y="277.6" width="4.8" height="4.8" fill="#5cb043" stroke="#000" stroke-width="1.1"/>
<rect x="473.3" y="298.3" width="4.8" height="4.8" fill="#5cb043" stroke="#000" stroke-width="1.1"/>
<rect x="482.5" y="296.8" width="4.8" height="4.8" fill="#5cb043" stroke="#000" stroke-width="1.1"/>
<rect x="477.1" y="296.0" width="4.8" height="4.8" fill="#5cb043" stroke="#000" stroke-width="1.1"/>
<rect x="491.40000000000003" y="292.1" width="4.8" height="4.8" fill="#5cb043" stroke="#000" stroke-width="1.1"/>
<rect x="491.40000000000003" y="299.40000000000003" width="4.8" height="4.8" fill="#5cb043" stroke="#000" stroke-width="1.1"/>
<rect x="500.20000000000005" y="295.20000000000005" width="4.8" height="4.8" fill="#5cb043" stroke="#000" stroke-width="1.1"/>
<text x="404.84999999999997" y="350.4" font-size="8.4" text-anchor="end" transform="rotate(-45 404.84999999999997 350.4)">Con</text>
<text x="422.5" y="350.4" font-size="8.4" text-anchor="end" transform="rotate(-45 422.5 350.4)">PLX5</text>
<text x="440.29999999999995" y="350.4" font-size="8.4" text-anchor="end" transform="rotate(-45 440.29999999999995 350.4)">PLX2</text>
<text x="465.0" y="350.4" font-size="8.4" text-anchor="end" transform="rotate(-45 465.0 350.4)">Con</text>
<text x="483.0" y="350.4" font-size="8.4" text-anchor="end" transform="rotate(-45 483.0 350.4)">PLX5</text>
<text x="501.0" y="350.4" font-size="8.4" text-anchor="end" transform="rotate(-45 501.0 350.4)">PLX2</text>
</svg>
<svg class="fr" width="520" height="373" viewBox="0 0 520 373">
<rect x="0" y="0" width="520" height="1.1" fill="#000"/>
<rect x="0" y="0" width="1.1" height="373" fill="#000"/>
<rect x="518.5" y="0" width="1.5" height="373" fill="#000"/>
<rect x="0" y="371.5" width="520" height="1.5" fill="#000"/>
</svg>
</body></html>
